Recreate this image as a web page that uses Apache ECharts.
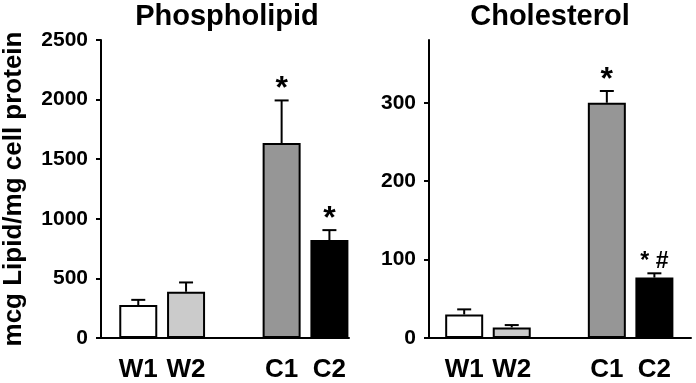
<!DOCTYPE html>
<html><head><meta charset="utf-8">
<script src="https://cdn.jsdelivr.net/npm/echarts@6/dist/echarts.min.js"></script>
<style>html,body{margin:0;padding:0;background:#fff}#c{width:696px;height:383px}</style>
</head><body><div id="c"></div>
<script>
const categories = ['W1', 'W2', 'C1', 'C2'];
const slots = [0, 1, 3, 4];
const plValues = [276, 388, 1636, 822];
const plErrors = [44, 78, 357, 83];
const plMarks = ['', '', '*', '*'];
const plTicks = [0, 500, 1000, 1500, 2000, 2500];
const chValues = [30, 13.5, 300, 77];
const chErrors = [6.5, 3, 15, 5.5];
const chMarks = ['', '', '*', '* #'];
const chTicks = [0, 100, 200, 300];
const barColors = ['#ffffff', '#cbcbcb', '#969696', '#000000'];
const titles = ['Phospholipid', 'Cholesterol'];
const yName = 'mcg Lipid/mg cell protein';

const FONT = '"Liberation Sans", Arial, Helvetica, sans-serif';

function barData(vals) {
  return vals.map((v, i) => ({ value: [slots[i], v], itemStyle: { color: barColors[i] } }));
}
function errData(vals, errs) {
  return vals.map((v, i) => [slots[i], v, v + errs[i]]);
}
function errRender(marks) {
  return function (params, api) {
    const x = api.value(0), v = api.value(1), t = api.value(2);
    const p0 = api.coord([x, v]), p1 = api.coord([x, t]);
    const children = [
      { type: 'line', shape: { x1: p0[0], y1: p0[1], x2: p1[0], y2: p1[1] }, style: { stroke: '#000', lineWidth: 2 } },
      { type: 'line', shape: { x1: p1[0] - 7, y1: p1[1], x2: p1[0] + 7, y2: p1[1] }, style: { stroke: '#000', lineWidth: 2 } }
    ];
    const m = marks[params.dataIndex];
    if (m) {
      const small = m.length > 1;
      children.push({ type: 'text', x: p1[0], y: p1[1] + (small ? 0 : 5),
        style: { text: m, font: 'bold ' + (small ? 23 : 32) + 'px ' + FONT, fill: '#000', align: 'center', verticalAlign: 'bottom' } });
    }
    return { type: 'group', children };
  };
}
function xAxisCfg(grid, min, max) {
  return {
    type: 'value', gridIndex: grid, min: min, max: max,
    axisLine: { show: true, onZero: false, lineStyle: { color: '#000', width: 2 } },
    axisTick: { show: false },
    splitLine: { show: false },
    axisLabel: {
      customValues: slots,
      formatter: v => categories[slots.indexOf(v)],
      fontFamily: FONT, fontSize: 26, fontWeight: 'bold', color: '#000', margin: 19
    }
  };
}
function yAxisCfg(grid, max, ticks, name) {
  const c = {
    type: 'value', gridIndex: grid, min: 0, max: max,
    axisLine: { show: true, onZero: false, lineStyle: { color: '#000', width: 2 } },
    axisTick: { show: true, length: 5, customValues: ticks, lineStyle: { color: '#000', width: 2 } },
    splitLine: { show: false },
    axisLabel: { customValues: ticks, formatter: v => String(v), fontFamily: FONT, fontSize: 21, fontWeight: 'bold', color: '#000', margin: 13 }
  };
  if (name) {
    c.name = name; c.nameLocation = 'middle'; c.nameGap = 74;
    c.nameTextStyle = { fontFamily: FONT, fontSize: 26, fontWeight: 'bold', color: '#000' };
  }
  return c;
}

const chart = echarts.init(document.getElementById('c'));
chart.setOption({
  animation: false,
  backgroundColor: '#fff',
  graphic: [
    { type: 'text', x: 227, y: 2, style: { text: titles[0], font: 'bold 29px ' + FONT, fill: '#000', align: 'center', verticalAlign: 'top' } },
    { type: 'text', x: 550, y: 2, style: { text: titles[1], font: 'bold 29px ' + FONT, fill: '#000', align: 'center', verticalAlign: 'top' } }
  ],
  grid: [
    { left: 101, top: 40, width: 248, height: 299 },
    { left: 429, top: 40, width: 262, height: 299 }
  ],
  xAxis: [xAxisCfg(0, -0.78, 4.41), xAxisCfg(1, -0.74, 4.77)],
  yAxis: [yAxisCfg(0, 2500, plTicks, yName), yAxisCfg(1, 380, chTicks, null)],
  series: [
    { type: 'bar', xAxisIndex: 0, yAxisIndex: 0, barWidth: 38, data: barData(plValues),
      itemStyle: { borderColor: '#000', borderWidth: 2 } },
    { type: 'custom', xAxisIndex: 0, yAxisIndex: 0, renderItem: errRender(plMarks), data: errData(plValues, plErrors), clip: false, z: 3 },
    { type: 'bar', xAxisIndex: 1, yAxisIndex: 1, barWidth: 38, data: barData(chValues),
      itemStyle: { borderColor: '#000', borderWidth: 2 } },
    { type: 'custom', xAxisIndex: 1, yAxisIndex: 1, renderItem: errRender(chMarks), data: errData(chValues, chErrors), clip: false, z: 3 }
  ]
});
</script>
</body></html>
